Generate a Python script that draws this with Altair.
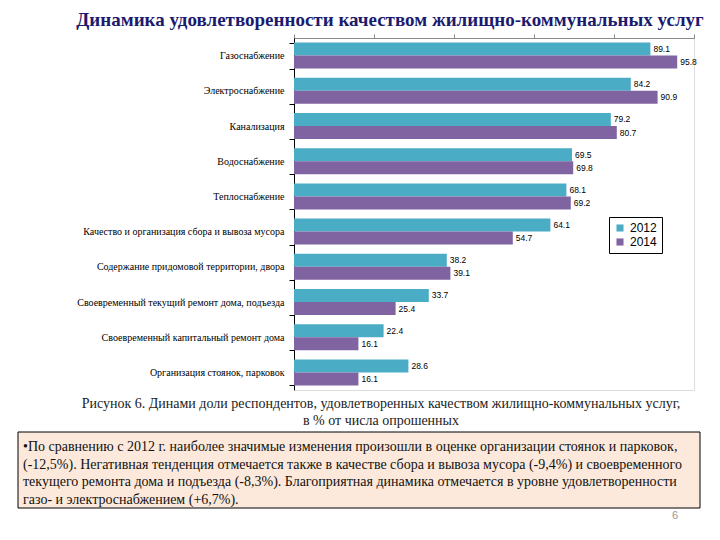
import altair as alt
import pandas as pd

categories = [
    "Газоснабжение",
    "Электроснабжение",
    "Канализация",
    "Водоснабжение",
    "Теплоснабжение",
    "Качество и организация сбора и вывоза мусора",
    "Содержание придомовой территории, двора",
    "Своевременный текущий ремонт дома, подъезда",
    "Своевременный капитальный ремонт дома",
    "Организация стоянок, парковок",
]
values_2012 = [89.1, 84.2, 79.2, 69.5, 68.1, 64.1, 38.2, 33.7, 22.4, 28.6]
values_2014 = [95.8, 90.9, 80.7, 69.8, 69.2, 54.7, 39.1, 25.4, 16.1, 16.1]
years = ["2012", "2014"]
colors = ["#4BACC6", "#8064A2"]

title_text = "Динамика удовлетворенности качеством жилищно-коммунальных услуг"
caption_lines = [
    "Рисунок 6. Динами доли респондентов, удовлетворенных качеством жилищно-коммунальных услуг,",
    "в % от числа опрошенных",
]
box_lines = [
    "•По сравнению с 2012 г. наиболее значимые изменения произошли в оценке организации стоянок и парковок,",
    "(-12,5%). Негативная тенденция отмечается также в качестве сбора и вывоза мусора (-9,4%) и своевременного",
    "текущего ремонта дома и подъезда (-8,3%). Благоприятная динамика отмечается в уровне удовлетворенности",
    "газо- и электроснабжением (+6,7%).",
]
page_number = "6"

SERIF = "Liberation Serif, Times New Roman, serif"
SANS = "Liberation Sans, Arial, sans-serif"

rows = []
for c, a, b in zip(categories, values_2012, values_2014):
    rows.append({"cat": c, "year": years[0], "value": a})
    rows.append({"cat": c, "year": years[1], "value": b})
df = pd.DataFrame(rows)
dummy = pd.DataFrame({"k": [0]})

y_enc = alt.Y(
    "cat:N",
    sort=categories,
    scale=alt.Scale(paddingInner=0.26, paddingOuter=0.13),
    axis=alt.Axis(
        title=None, tickBand="extent", labelFont=SERIF,
        labelFontSize=10, labelColor="#000", domainColor="#000",
        tickColor="#000", tickSize=5, labelPadding=5, labelLimit=300,
    ),
)
x_enc = alt.X(
    "value:Q",
    scale=alt.Scale(domain=[0, 100]),
    axis=alt.Axis(
        orient="top", title=None, labels=False, values=[0, 20, 40, 60, 80, 100],
        tickSize=4, domainColor="#888", tickColor="#888", grid=False,
    ),
)
color_enc = alt.Color(
    "year:N",
    scale=alt.Scale(domain=years, range=colors),
    legend=alt.Legend(
        title=None, orient="none", legendX=315, legendY=179,
        strokeColor="#000", fillColor="#fff", padding=5,
        labelFont=SANS, labelFontSize=12, labelColor="#000",
        symbolType="square", symbolSize=50, symbolStrokeWidth=0, rowPadding=2,
    ),
)

base = alt.Chart(df)
bars = base.mark_bar().encode(
    x=x_enc, y=y_enc, yOffset=alt.YOffset("year:N", sort=years), color=color_enc
)
labels = base.mark_text(
    align="left", baseline="middle", dx=3, font=SANS,
    fontSize=8.5, color="#000",
).encode(
    x="value:Q", y=alt.Y("cat:N", sort=categories),
    yOffset=alt.YOffset("year:N", sort=years),
    text=alt.Text("value:Q", format=".1f"),
)

layers = [bars, labels]

title = alt.Chart(dummy).mark_text(
    font=SERIF, fontSize=19, fontWeight="bold", color="#1B1B6E",
    align="center", baseline="alphabetic",
).encode(x=alt.value(96), y=alt.value(-12), text=alt.value(title_text))
layers.append(title)

for i, line in enumerate(caption_lines):
    layers.append(
        alt.Chart(dummy).mark_text(
            font=SERIF, fontSize=14, color="#222",
            align="center", baseline="middle",
        ).encode(x=alt.value(87), y=alt.value(366 + 17 * i), text=alt.value(line))
    )

box = alt.Chart(dummy).mark_rect(
    fill="#FCE9DB", stroke="#000", strokeWidth=1
).encode(x=alt.value(-276), x2=alt.value(406), y=alt.value(394), y2=alt.value(470))
layers.append(box)

for i, line in enumerate(box_lines):
    layers.append(
        alt.Chart(dummy).mark_text(
            font=SERIF, fontSize=14, color="#111",
            align="left", baseline="middle",
        ).encode(x=alt.value(-271), y=alt.value(409 + 17.5 * i), text=alt.value(line))
    )

layers.append(
    alt.Chart(dummy).mark_text(
        font=SANS, fontSize=11, color="#999", align="center",
    ).encode(x=alt.value(381), y=alt.value(478), text=alt.value(page_number))
)

chart = alt.layer(*layers).properties(
    width=400, height=352,
    autosize=alt.AutoSizeParams(type="none"),
    padding={"left": 286, "top": 30, "right": 18, "bottom": 142},
).configure_view(stroke=None).configure(background="#ffffff")

chart.save("out.html", embed_options={"renderer": "svg", "actions": False})
